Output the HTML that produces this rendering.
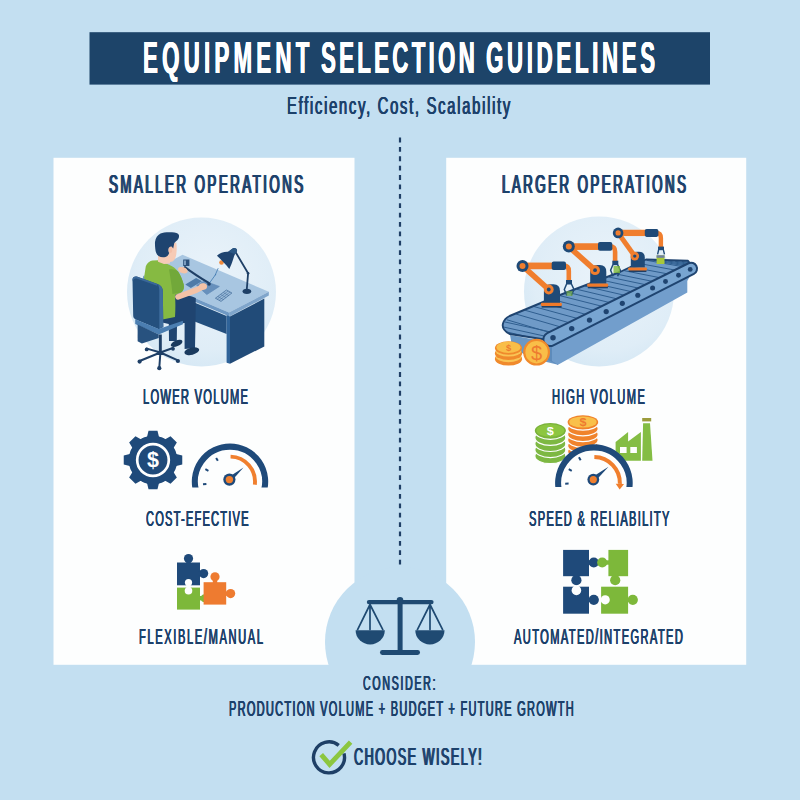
<!DOCTYPE html>
<html><head><meta charset="utf-8"><style>
html,body{margin:0;padding:0;}
body{width:800px;height:800px;position:relative;overflow:hidden;background:#C3DFF1;font-family:"Liberation Sans",sans-serif;}
.t{position:absolute;white-space:nowrap;line-height:1;transform-origin:0 0;}
svg{position:absolute;left:0;top:0;}
</style></head><body>
<svg width="0" height="0" style="position:absolute"><defs><filter id="thk" x="-5%" y="-20%" width="110%" height="140%"><feMorphology operator="dilate" radius="0.6 0"/></filter><filter id="thk2" x="-5%" y="-20%" width="110%" height="140%"><feMorphology operator="dilate" radius="0.5 0"/></filter><filter id="thk3" x="-5%" y="-20%" width="110%" height="140%"><feMorphology operator="dilate" radius="0.35 0.08"/></filter></defs></svg>
<svg width="800" height="800" viewBox="0 0 800 800">
<!-- banner -->
<rect x="89.5" y="32.2" width="620.5" height="52.4" fill="#1D4469"/>
<!-- panels -->
<rect x="53.5" y="157.8" width="301" height="507" fill="#FDFEFE"/>
<rect x="446.2" y="157.8" width="300" height="507" fill="#FDFEFE"/>
<!-- dashed line -->
<line x1="400" y1="137.6" x2="400" y2="565" stroke="#1F3F66" stroke-width="2.2" stroke-dasharray="4.8 4.58"/>
<!-- centre circle -->
<circle cx="400" cy="642" r="75" fill="#C3DFF1"/>
<!-- ===== desk scene ===== -->
<defs>
<radialGradient id="cg" cx="0.55" cy="0.4" r="0.65">
<stop offset="0" stop-color="#EAF3FA"/><stop offset="0.75" stop-color="#DFEDF7"/><stop offset="1" stop-color="#D4E7F4"/>
</radialGradient>
</defs>
<circle cx="201.5" cy="292" r="74.5" fill="url(#cg)"/>
<!-- modesty panel -->
<polygon points="155,286 226.6,316 226.6,334 155,306" fill="#234F7E"/>
<!-- desk top -->
<polygon points="143,276 182.5,254.8 268.8,291.8 228.9,312.6" fill="#A8C6E1"/>
<polygon points="228.9,312.6 268.8,291.8 268.8,295.6 229.5,316.4" fill="#7FA5CB"/>
<polygon points="143,276 228.9,312.6 229.5,316.4 143,279.8" fill="#6F99C4"/>
<!-- tablet / mat -->
<polygon points="185.3,284.4 196.1,278 202,281.2 190.8,288" fill="#4E7BA8"/>
<polygon points="196.5,285.2 204.3,281 219.4,286.4 206.8,294.6" fill="#6790BC" stroke="#5A85B3" stroke-width="0.6"/>
<!-- keyboard -->
<g>
<polygon points="215.4,298.2 226.4,290 231.9,293 221,301.4" fill="#9DBCDA" stroke="#3D6996" stroke-width="0.7"/>
<path d="M217.2 299.2 L228.2 291 M219.1 300.3 L230.1 292 M218 296.5 L223.5 299.7 M220.7 294.5 L226.2 297.7 M223.4 292.5 L228.9 295.7" stroke="#3D6996" stroke-width="0.5" fill="none"/>
</g>
<!-- gadget and cable -->
<rect x="183.2" y="259.5" width="6.2" height="6.5" fill="#2A4F7A"/>
<rect x="184.2" y="260.5" width="1.6" height="4.5" fill="#8FB0D0"/>
<path d="M184.2 266.6 C190 271 198 276.5 209.2 283.2" stroke="#1F3F66" stroke-width="2" fill="none"/>
<path d="M209.5 283 L216 274 M215 275.5 L218.2 268.2" stroke="#3F78B0" stroke-width="0.8" fill="none"/>
<circle cx="209" cy="284" r="1.8" fill="#1F3F66"/>
<!-- lamp -->
<ellipse cx="246.9" cy="291.3" rx="4.3" ry="2.6" fill="#1E3F66"/>
<path d="M246.7 290.5 L248.1 273.2 L235.5 252" stroke="#1E3F66" stroke-width="1.8" fill="none" stroke-linejoin="round"/>
<circle cx="248.1" cy="273.2" r="1.3" fill="#1E3F66"/>
<circle cx="221.5" cy="262.5" r="2.3" fill="#F08A3C"/>
<path d="M217 255.7 C219.5 253 224 251.6 228 251.8 L232.6 248.6 C234.6 247.3 237.2 248.6 237.1 250.9 L235 254.3 C233.6 256.5 232.8 262.5 229.3 268.9 C226 264.5 221 259.5 217 255.7 Z" fill="#1F4470"/>
<path d="M228.5 251.8 L232.6 248.6 C234.6 247.3 237.2 248.6 237.1 250.9 L235 254.3 Z" fill="#2B5784"/>
<!-- pedestal -->
<polygon points="226.6,314.9 230,316.4 230,363.8 226.6,362.7" fill="#2F6399"/>
<polygon points="230,316.4 264.3,298.6 264.3,346.4 230,363.8" fill="#214B78"/>
<!-- pants / legs -->
<path d="M160 296 L176 293.5 C185 294.5 191 296 195.8 298 L195.5 322 L195 348 L184.6 349 L184.6 323 L177 324 L176.8 341 L169 341 L168.8 324 L160 322 Z" fill="#1F4470"/>
<ellipse cx="191.8" cy="351.2" rx="7.6" ry="3.6" fill="#1A3A5E" transform="rotate(-14 191.8 351.2)"/>
<ellipse cx="176.6" cy="343.4" rx="6.2" ry="2.9" fill="#1A3A5E" transform="rotate(-22 176.6 343.4)"/>
<!-- shirt -->
<path d="M145.8 266.2 C147 263 150 261 152.5 260.6 L158.5 260.2 L164 262.5 L169 264.7 C172.5 266 176 268.5 178 271.5 C180.5 275 182 279 183.5 284 C184.3 287.5 184 290.5 181 292.5 L175 295 C175.5 302 175.5 309 175 317 L160 320 L144.2 300 L144.2 276.7 Z" fill="#86BA42"/>
<path d="M169 269.5 C172.5 268.6 176.5 269.5 178.2 271.7 C180.6 275 182.3 279.5 183.6 284 C184.3 287.5 184 290.5 181 292.5 L172.5 294 C172 288 170.5 278 169 269.5 Z" fill="#72A83A"/>
<!-- arms -->
<path d="M178 296.8 L196.5 290 L203.5 286.5" stroke="#F4C2A6" stroke-width="5.6" fill="none" stroke-linecap="round" stroke-linejoin="round"/>
<ellipse cx="203" cy="286.5" rx="4" ry="3.2" fill="#F4C2A6"/>
<ellipse cx="182.8" cy="270.2" rx="5" ry="3" fill="#F4C2A6" transform="rotate(18 182.8 270.2)"/>
<!-- neck / face -->
<path d="M158 255.5 L169.5 255.5 L170 263.5 L164 264 L158 261.8 Z" fill="#F6CBB6"/>
<path d="M170.5 243.5 L176.2 242.6 C176.9 246 176.9 250 176.3 254 C175.8 257.5 174.8 260 172.5 261.5 L168.8 262.2 L168 253 Z" fill="#F6CBB6"/>
<ellipse cx="170.2" cy="249.8" rx="2" ry="3.3" fill="#F3BFA8"/>
<!-- hair -->
<path d="M155 242 C155.5 238 157.5 235 160.5 233.5 C163 232.3 167 232 172 232.2 C175.5 232.2 178.2 233 178.9 235 C179.4 237.5 178.3 239.6 176 241.3 L174.3 243 L173.2 248.4 L171.8 246.7 C170.2 246.2 168.6 247.5 168.3 249.5 C168.1 251.5 168.9 252.6 169.2 253 C168.4 255 167.4 256.5 165.5 257 C163 257.6 160.5 257.3 158.5 256 C156.5 254.5 155.6 252 155.3 249 C155 246.5 154.9 244 155 242 Z" fill="#1E4470"/>
<!-- chair back -->
<path d="M132.5 279.5 C132.6 277.3 134.5 276 136.8 276.6 L157.5 284 C160.5 285.2 162.6 287.5 162.8 290.5 L163.3 327 L158.8 329.2 L135.7 319.4 C134.2 318.8 133.2 317.5 133.2 315.8 Z" fill="#24507E"/>
<path d="M157.5 284 C160.5 285.2 162.6 287.5 162.8 290.5 L163.3 327 L159.3 329 L159.3 291 C159.3 288 158.8 285.6 157.5 284 Z" fill="#3F6D9D"/>
<path d="M132.5 279.5 C132.6 277.3 134.5 276 136.8 276.6 L157.5 284 L157.2 285.8 L136.6 278.5 C134.8 278.1 133.3 279 132.8 281.5 Z" fill="#3A689A"/>
<!-- seat -->
<polygon points="135.2,319.2 158.75,329 182.9,320.8 182.9,324.2 158.75,334.6 135.2,324" fill="#4B7EB1"/>
<polygon points="137.6,324.4 158.75,334.6 158.75,338 141.9,343.6 137.6,341.2" fill="#28527F"/>
<rect x="158.9" y="334.5" width="2.9" height="19" fill="#1E3F66"/>
<g stroke="#1E3F66" stroke-width="2" stroke-linecap="round">
<path d="M160.4 352.5 L139.6 361 M160.4 352.5 L177.9 360.4 M160.4 352.5 L159.3 367.7 M160.4 352.5 L146.9 348.6 M160.4 352.5 L172.8 348"/>
</g>
<g fill="#1E3F66">
<circle cx="139.6" cy="361.6" r="2.1"/><circle cx="177.9" cy="361" r="2.1"/><circle cx="159.3" cy="368.2" r="2.1"/><circle cx="146.7" cy="349.4" r="1.9"/><circle cx="173" cy="348.8" r="1.9"/>
</g>
<!-- ===== conveyor scene ===== -->
<circle cx="599" cy="291.5" r="75" fill="url(#cg)"/>
<polygon points="510,335 548,342 558,347 558,364.8 529,357.8 512,346" fill="#6A98C6"/>
<polygon points="548,342 558,347 558,364.8 548,360" fill="#5D8BBB"/>
<polygon points="552,344 690,276 687.3,281 687.3,292.6 558,364.8 552,361" fill="#729ECC"/>
<defs><clipPath id="beltclip"><path d="M509.6 316 L560 295 L620 272 L646 259.5 L688 260.8 L692 266 L548 340 L509.6 334 C504 331 502 327 503 323.5 C504 320 506.5 317.5 509.6 316 Z"/></clipPath></defs>
<path d="M509.6 316 L560 295 L620 272 L646 259.5 L688 260.8 L692 266 L548 340 L509.6 334 C504 331 502 327 503 323.5 C504 320 506.5 317.5 509.6 316 Z" fill="#6F9AC7"/>
<g clip-path="url(#beltclip)"><path d="M507.0 319.8 L577.0 340.6 M516.2 314.1 L586.2 334.4 M525.2 310.3 L595.2 330.1 M534.1 306.6 L604.1 325.8 M542.9 302.9 L612.9 321.6 M551.6 299.3 L621.6 317.5 M560.1 295.7 L630.1 313.4 M568.6 292.5 L638.6 309.7 M576.9 289.3 L646.9 306.0 M585.1 286.2 L655.1 302.3 M593.1 283.1 L663.1 298.8 M601.1 280.0 L671.1 295.2 M608.9 277.0 L678.9 291.7 M616.7 274.1 L686.7 288.3 M624.3 270.7 L694.3 284.5 M631.8 267.1 L701.8 280.4 M639.3 263.5 L709.3 276.4 M646.6 260.3 L716.6 272.7 M653.8 260.5 L723.8 272.5 M660.9 260.8 L730.9 272.3 M667.9 261.0 L737.9 272.1 M674.8 261.2 L744.8 271.9 M681.6 261.4 L751.6 271.7 M505.0 322 L560 334.0 M503.5 327 L560 339.5 M505.0 331.5 L560 344.5" stroke="#2F5E8F" stroke-width="1" fill="none"/></g>
<path d="M509.6 316 L560 295 L620 272 L646 259.5 L688 260.8 L692 266 L548 340 L509.6 334 C504 331 502 327 503 323.5 C504 320 506.5 317.5 509.6 316 Z" fill="none" stroke="#1F4470" stroke-width="1.9" stroke-linejoin="round"/>
<path d="M547.21 333.03 L688.51 263.24 A6.0 6.0 0 0 1 693.89 273.96 L553.39 345.37 A6.9 6.9 0 0 1 547.21 333.03 Z" fill="#78A5D1" stroke="#1F4470" stroke-width="2"/>
<circle cx="553" cy="337.8" r="2.75" fill="#1F4470"/>
<circle cx="571.7" cy="328.6" r="2.71" fill="#1F4470"/>
<circle cx="589.5" cy="320.1" r="2.67" fill="#1F4470"/>
<circle cx="606.2" cy="311.6" r="2.63" fill="#1F4470"/>
<circle cx="622.3" cy="303.3" r="2.59" fill="#1F4470"/>
<circle cx="637.8" cy="295.3" r="2.56" fill="#1F4470"/>
<circle cx="652.6" cy="288.1" r="2.52" fill="#1F4470"/>
<circle cx="665.5" cy="281.6" r="2.48" fill="#1F4470"/>
<circle cx="678.5" cy="275.2" r="2.44" fill="#1F4470"/>
<circle cx="690.2" cy="269.4" r="2.40" fill="#1F4470"/>
<g id="robot1">
<path d="M543.9 303 V291 Q543.9 284.2 550.5 284.2 H553.5 Q560 284.2 560 291 V303 Z" fill="#1F4A77"/>
<rect x="541.6" y="305.4" width="20" height="2.2" fill="#1F3F66"/>
<rect x="540.9" y="302.8" width="21" height="3.2" rx="1.2" fill="#F07A2A"/>
<path d="M548.75 289.5 L522.5 265.9" stroke="#F07E2E" stroke-width="5.6"/>
<path d="M522.5 265.9 L553 265.9" stroke="#F07E2E" stroke-width="6.7"/>
<path d="M563.5 265.6 Q568.8 265.6 568.8 271 V281" stroke="#F07E2E" stroke-width="4.6" fill="none"/>
<rect x="551.7" y="261.4" width="14.3" height="8.7" rx="2" fill="#1F4A77"/>
<rect x="566" y="280" width="6" height="4.5" fill="#1F4A77"/>
<path d="M566.6 284 L564.3 289.5 L566.8 295.5 M571.4 284 L574 289.5 L571.3 295.5" stroke="#1F4A77" stroke-width="1.5" fill="none"/>
<circle cx="548.75" cy="289.5" r="4.9" fill="#F07E2E"/>
<circle cx="548.75" cy="289.5" r="1.9" fill="#1F4A77"/>
<circle cx="522.5" cy="265.9" r="6" fill="#1F4A77"/>
<circle cx="522.5" cy="265.9" r="3" fill="#F07E2E"/>
</g>
<g transform="translate(46.3 -19.3)">
<path d="M543.9 303 V291 Q543.9 284.2 550.5 284.2 H553.5 Q560 284.2 560 291 V303 Z" fill="#1F4A77"/>
<rect x="541.6" y="305.4" width="20" height="2.2" fill="#1F3F66"/>
<rect x="540.9" y="302.8" width="21" height="3.2" rx="1.2" fill="#F07A2A"/>
<path d="M548.75 289.5 L522.5 265.9" stroke="#F07E2E" stroke-width="5.6"/>
<path d="M522.5 265.9 L553 265.9" stroke="#F07E2E" stroke-width="6.7"/>
<path d="M563.5 265.6 Q568.8 265.6 568.8 271 V281" stroke="#F07E2E" stroke-width="4.6" fill="none"/>
<rect x="551.7" y="261.4" width="14.3" height="8.7" rx="2" fill="#1F4A77"/>
<rect x="566" y="280" width="6" height="4.5" fill="#1F4A77"/>
<path d="M566.6 284 L564.3 289.5 L566.8 295.5 M571.4 284 L574 289.5 L571.3 295.5" stroke="#1F4A77" stroke-width="1.5" fill="none"/>
<circle cx="548.75" cy="289.5" r="4.9" fill="#F07E2E"/>
<circle cx="548.75" cy="289.5" r="1.9" fill="#1F4A77"/>
<circle cx="522.5" cy="265.9" r="6" fill="#1F4A77"/>
<circle cx="522.5" cy="265.9" r="3" fill="#F07E2E"/>
</g>
<g>
<path d="M630.8 267.5 V257.5 Q630.8 251.7 636.8 251.7 H638.8 Q644.8 251.7 644.8 257.5 V267.5 Z" fill="#1F4A77"/>
<rect x="628.8" y="269.8" width="17.6" height="2.2" fill="#1F3F66"/>
<rect x="628.2" y="267.4" width="18.8" height="3.1" rx="1.1" fill="#F07A2A"/>
<path d="M634.75 256.1 L618.1 232.9" stroke="#F07E2E" stroke-width="5"/>
<path d="M618.1 232.9 L646 232.9" stroke="#F07E2E" stroke-width="6.3"/>
<path d="M656.5 233 Q660.8 233 660.9 238 V247.5" stroke="#F07E2E" stroke-width="4.4" fill="none"/>
<rect x="644.8" y="229" width="13.6" height="7.9" rx="1.8" fill="#1F4A77"/>
<rect x="658" y="246.6" width="6" height="3.6" fill="#1F4A77"/>
<path d="M658.6 250 L657.6 254.3 M663.4 250 L664.5 254.3" stroke="#1F4A77" stroke-width="1.4" fill="none"/>
<circle cx="634.75" cy="256.1" r="4.3" fill="#F07E2E"/>
<circle cx="634.75" cy="256.1" r="1.7" fill="#1F4A77"/>
<circle cx="618.1" cy="232.9" r="5.3" fill="#1F4A77"/>
<circle cx="618.1" cy="232.9" r="2.6" fill="#F07E2E"/>
</g>

<rect x="613.5" y="266" width="6.5" height="7" fill="#7DB83A" opacity="0.8"/>
<rect x="656.6" y="255.3" width="7.9" height="8.7" fill="#A8C83A"/>
<rect x="656.6" y="255.3" width="7.9" height="2.5" fill="#6E7FA0"/>
<rect x="566.5" y="291" width="6" height="5" fill="#7DB83A" opacity="0.6"/>
<!-- coins -->
<g>
<ellipse cx="508.5" cy="359" rx="13.6" ry="6.6" fill="#F08A2C"/>
<ellipse cx="508.5" cy="356.6" rx="12.8" ry="5.6" fill="#F9C455"/>
<ellipse cx="508.5" cy="353.4" rx="13.6" ry="6.6" fill="#F08A2C"/>
<ellipse cx="508.5" cy="351" rx="12.8" ry="5.6" fill="#F9C455"/>
<ellipse cx="508.5" cy="348" rx="13.6" ry="6.8" fill="#F08A2C"/>
<ellipse cx="508.5" cy="347.2" rx="12" ry="5.7" fill="#F9BE48"/>
<text x="0" y="0" font-family="Liberation Sans" font-size="11" font-weight="bold" fill="#EE7B30" text-anchor="middle" transform="translate(508.5 351) scale(0.85 0.8)">$</text>
<circle cx="536.6" cy="352.2" r="13.4" fill="#F08A2C"/>
<circle cx="536.6" cy="352.2" r="11.2" fill="#F9BE48"/>
<text x="536.6" y="359.5" font-family="Liberation Sans" font-size="20" fill="#EE7B30" text-anchor="middle">$</text>
</g>
<!-- ===== scale icon ===== -->
<g fill="#1F4A72" stroke="none">
<rect x="366.8" y="599.9" width="66.8" height="4.4" rx="2.2"/>
<circle cx="400" cy="600.2" r="3.3"/>
<rect x="397.6" y="600" width="5" height="52"/>
<rect x="380" y="650" width="40" height="4.9" rx="2.4"/>
<path d="M355.6 630.3 H384.8 A14.6 14.2 0 0 1 355.6 630.3 Z"/>
<path d="M415.3 630.3 H444.5 A14.6 14.2 0 0 1 415.3 630.3 Z"/>
</g>
<g stroke="#1F4A72" stroke-width="1.7" fill="none" stroke-linecap="round">
<path d="M370 604.5 L357.6 629.6 M370 604.5 V629.6 M370 604.5 L382.8 629.6"/>
<path d="M430 604.5 L417.4 629.6 M430 604.5 V629.6 M430 604.5 L442.6 629.6"/>
</g>
<!-- ===== check icon ===== -->
<path d="M343.97 753.39 A15.5 15.5 0 1 1 338.75 745.35" fill="none" stroke="#1E3F66" stroke-width="3.4"/>
<path d="M321.2 754.6 L329.6 764.4 L350.6 742.2" fill="none" stroke="#8CC63F" stroke-width="4.8" stroke-linejoin="miter"/>
<!-- ===== gear ===== -->
<g fill="#1F4A7A">
<circle cx="153" cy="460" r="24.3"/>
<path d="M147.06 436.75 L148.52 430.74 L157.48 430.74 L158.94 436.75 L165.24 439.36 L170.52 436.14 L176.86 442.48 L173.64 447.76 L176.25 454.06 L182.26 455.52 L182.26 464.48 L176.25 465.94 L173.64 472.24 L176.86 477.52 L170.52 483.86 L165.24 480.64 L158.94 483.25 L157.48 489.26 L148.52 489.26 L147.06 483.25 L140.76 480.64 L135.48 483.86 L129.14 477.52 L132.36 472.24 L129.75 465.94 L123.74 464.48 L123.74 455.52 L129.75 454.06 L132.36 447.76 L129.14 442.48 L135.48 436.14 L140.76 439.36 Z"/>
</g>
<circle cx="153" cy="460" r="15.8" fill="none" stroke="#FFFFFF" stroke-width="2.7"/>
<text x="153" y="467.2" font-family="Liberation Sans" font-weight="bold" font-size="21.5" fill="#FFFFFF" text-anchor="middle">$</text>
<!-- ===== left speedometer ===== -->
<defs><clipPath id="gl"><rect x="184.9" y="436.54999999999995" width="90.2" height="50.950000000000045"/></clipPath></defs>
<path d="M197.02 493.65 A35.1 35.1 0 1 1 262.98 493.65" fill="none" stroke="#1F4A7A" stroke-width="6.2" clip-path="url(#gl)"/>
<path d="M230.57 456.66 A25 25 0 0 1 254.82 484.65" fill="none" stroke="#F07F2E" stroke-width="3.9"/>
<path d="M206.39 483.94 L203.01 484.26 M208.42 470.77 L205.38 469.23 M217.86 460.87 L216.14 457.93" stroke="#1F4A7A" stroke-width="2" fill="none"/>
<path d="M231.09 481.57 L243.50 467.50 L227.71 477.63 Z" fill="#1F4A7A"/>
<circle cx="229.4" cy="479.6" r="6.1" fill="#1F4A7A"/><circle cx="229.4" cy="479.6" r="3.7" fill="#F07F2E"/>
<!-- ===== left puzzle ===== -->
<g fill="#1F4A7A">
<rect x="177" y="562.5" width="23" height="22.8"/>
<circle cx="188.5" cy="558.6" r="4.6"/><rect x="186.3" y="559" width="4.4" height="5"/>
<circle cx="203.6" cy="573.6" r="4.6"/><rect x="198" y="571.4" width="5" height="4.4"/>
</g>
<g fill="#7DB83A">
<rect x="177" y="587.6" width="23" height="22"/>
<circle cx="204.8" cy="598.2" r="4"/><rect x="199" y="596" width="5" height="4.4"/>
</g>
<g fill="#FDFEFE">
<circle cx="188.5" cy="590.8" r="3.8"/><rect x="186.5" y="583.5" width="4" height="6"/>
<circle cx="188.5" cy="582.6" r="3.6"/>
</g>
<g fill="#EE7B30">
<rect x="203.6" y="582.2" width="22.6" height="22.4"/>
<circle cx="215" cy="576.8" r="4.6"/><rect x="212.8" y="578" width="4.4" height="5"/>
<circle cx="230.6" cy="593.6" r="4.6"/><rect x="225" y="591.4" width="5" height="4.4"/>
</g>
<!-- ===== right puzzle ===== -->
<g fill="#1F4A7A">
<rect x="563.1" y="549.9" width="25.9" height="26.3"/>
<circle cx="593.8" cy="562.5" r="5.1"/><rect x="588" y="560.3" width="4" height="4.4"/>
<circle cx="576.4" cy="580.2" r="5.1"/><rect x="574.2" y="575" width="4.4" height="4"/>
<rect x="563.1" y="586.7" width="25.9" height="27"/>
<circle cx="593.8" cy="599.8" r="5.1"/><rect x="588" y="597.6" width="4" height="4.4"/>
</g>
<g fill="#7DB83A">
<rect x="608.4" y="549.9" width="19.7" height="26.3"/>
<circle cx="602.2" cy="562.5" r="5.1"/><rect x="605" y="560.3" width="4" height="4.4"/>
<circle cx="615.2" cy="580.2" r="5.1"/><rect x="613" y="575" width="4.4" height="4"/>
<rect x="601.1" y="586.7" width="27" height="27"/>
<circle cx="632.8" cy="599.8" r="5.1"/><rect x="627" y="597.6" width="4" height="4.4"/>
</g>
<g fill="#FDFEFE">
<circle cx="576.4" cy="590.4" r="4.8"/>
<circle cx="605.2" cy="599.8" r="4.6"/>
</g>

<!-- ===== right middle ===== -->
<ellipse cx="550.35" cy="455.90" rx="15.5" ry="7.800000000000001" fill="#7DB843" stroke="#FDFEFE" stroke-width="1.2"/>
<ellipse cx="550.35" cy="449.80" rx="15.5" ry="7.800000000000001" fill="#7DB843" stroke="#FDFEFE" stroke-width="1.2"/>
<ellipse cx="550.35" cy="443.70" rx="15.5" ry="7.800000000000001" fill="#7DB843" stroke="#FDFEFE" stroke-width="1.2"/>
<ellipse cx="550.35" cy="437.60" rx="15.5" ry="7.800000000000001" fill="#7DB843" stroke="#FDFEFE" stroke-width="1.2"/>
<ellipse cx="550.35" cy="431.50" rx="15.5" ry="7.800000000000001" fill="#7DB843" stroke="#FDFEFE" stroke-width="1.2"/>
<ellipse cx="550.35" cy="430.5" rx="15.5" ry="7.4" fill="#7AB23A"/>
<ellipse cx="550.35" cy="430.5" rx="13.9" ry="6.2" fill="#8DC640"/>
<text x="0" y="0" font-family="Liberation Sans" font-weight="bold" font-size="14" fill="#FFFFFF" text-anchor="middle" transform="translate(550.35 434.9) scale(0.9 0.75)">$</text>
<ellipse cx="582.9" cy="457.20" rx="15.3" ry="7.2" fill="#F0832C" stroke="#FDFEFE" stroke-width="1.2"/>
<ellipse cx="582.9" cy="451.50" rx="15.3" ry="7.2" fill="#F0832C" stroke="#FDFEFE" stroke-width="1.2"/>
<ellipse cx="582.9" cy="445.80" rx="15.3" ry="7.2" fill="#F0832C" stroke="#FDFEFE" stroke-width="1.2"/>
<ellipse cx="582.9" cy="440.10" rx="15.3" ry="7.2" fill="#F0832C" stroke="#FDFEFE" stroke-width="1.2"/>
<ellipse cx="582.9" cy="434.40" rx="15.3" ry="7.2" fill="#F0832C" stroke="#FDFEFE" stroke-width="1.2"/>
<ellipse cx="582.9" cy="428.70" rx="15.3" ry="7.2" fill="#F0832C" stroke="#FDFEFE" stroke-width="1.2"/>
<ellipse cx="582.9" cy="423.00" rx="15.3" ry="7.2" fill="#F0832C" stroke="#FDFEFE" stroke-width="1.2"/>
<ellipse cx="582.9" cy="422" rx="15.3" ry="6.8" fill="#F0832C"/>
<ellipse cx="582.9" cy="422" rx="13.700000000000001" ry="5.6" fill="#F9C04A"/>
<text x="0" y="0" font-family="Liberation Sans" font-weight="bold" font-size="14" fill="#EE7B30" text-anchor="middle" transform="translate(582.9 426.2) scale(0.9 0.75)">$</text>
<g fill="#84BD44">
<polygon points="615.6,460.75 615.6,442 628.1,432 628.1,441.4 640.9,432 640.9,460.75"/>
<polygon points="643.1,423.25 650,423.25 652.5,460.75 642.2,460.75"/>
</g>
<rect x="642.2" y="418" width="9" height="3.4" fill="#9C9C3C"/>
<rect x="620" y="447" width="6.6" height="6" fill="#FDFEFE"/>
<rect x="630.3" y="447" width="6.6" height="6" fill="#FDFEFE"/>

<defs><clipPath id="gr"><rect x="548.1999999999999" y="437.3" width="91.4" height="49.69999999999999"/></clipPath></defs>
<path d="M558.1999999999999 483 A35.7 35.7 0 0 1 629.6 483 L629.6 487 L558.1999999999999 487 Z" fill="#FDFEFE"/>
<path d="M560.35 495.21 A35.7 35.7 0 1 1 627.45 495.21" fill="none" stroke="#1F4A7A" stroke-width="6.2" clip-path="url(#gr)"/>
<path d="M594.35 457.00 A26 26 0 0 1 619.88 483.91" fill="none" stroke="#F07F2E" stroke-width="4"/>
<path d="M624.08 484.05 L619.69 489.40 L615.69 483.76 Z" fill="#F07F2E"/>
<path d="M568.60 483.56 L565.20 483.64 M571.74 470.82 L568.76 469.18 M580.66 460.27 L578.94 457.33" stroke="#1F4A7A" stroke-width="2" fill="none"/>
<path d="M594.98 481.58 L608.50 466.70 L591.62 477.62 Z" fill="#1F4A7A"/>
<circle cx="593.3" cy="479.6" r="5.9" fill="#1F4A7A"/><circle cx="593.3" cy="479.6" r="3.6" fill="#F07F2E"/>
</svg>
<div class="t" style="left:143.24px;top:35.81px;font-size:44.64px;font-weight:bold;color:#ffffff;letter-spacing:8.422px;transform:scaleX(0.5);text-shadow:-0.6px 0 0 #ffffff,0.6px 0 0 #ffffff;">EQUIPMENT</div>
<div class="t" style="left:321.33px;top:35.81px;font-size:44.64px;font-weight:bold;color:#ffffff;letter-spacing:6.517px;transform:scaleX(0.5);text-shadow:-0.6px 0 0 #ffffff,0.6px 0 0 #ffffff;">SELECTION</div>
<div class="t" style="left:486.11px;top:35.81px;font-size:44.64px;font-weight:bold;color:#ffffff;letter-spacing:7.293px;transform:scaleX(0.5);text-shadow:-0.6px 0 0 #ffffff,0.6px 0 0 #ffffff;">GUIDELINES</div>
<div class="t" style="left:287.21px;top:94.16px;font-size:23.91px;font-weight:normal;color:#1C416B;letter-spacing:2.736px;transform:scaleX(0.62);text-shadow:-0.6px 0 0 #1C416B,0.6px 0 0 #1C416B;">Efficiency, Cost, Scalability</div>
<div class="t" style="left:109.03px;top:170.53px;font-size:26.67px;font-weight:normal;color:#1C416B;letter-spacing:4.922px;transform:scaleX(0.5);text-shadow:-1.3px 0 0 #1C416B,1.3px 0 0 #1C416B;">SMALLER OPERATIONS</div>
<div class="t" style="left:502.03px;top:170.53px;font-size:26.67px;font-weight:normal;color:#1C416B;letter-spacing:4.883px;transform:scaleX(0.5);text-shadow:-1.3px 0 0 #1C416B,1.3px 0 0 #1C416B;">LARGER OPERATIONS</div>
<div class="t" style="left:143.11px;top:387.44px;font-size:21.45px;font-weight:normal;color:#1C416B;letter-spacing:2.434px;transform:scaleX(0.52);text-shadow:-0.6px 0 0 #1C416B,0.6px 0 0 #1C416B;">LOWER VOLUME</div>
<div class="t" style="left:552.11px;top:387.4px;font-size:21.38px;font-weight:normal;color:#1C416B;letter-spacing:2.908px;transform:scaleX(0.52);text-shadow:-0.6px 0 0 #1C416B,0.6px 0 0 #1C416B;">HIGH VOLUME</div>
<div class="t" style="left:146.44px;top:508.65px;font-size:21.38px;font-weight:normal;color:#1C416B;letter-spacing:2.282px;transform:scaleX(0.52);text-shadow:-0.6px 0 0 #1C416B,0.6px 0 0 #1C416B;">COST-EFECTIVE</div>
<div class="t" style="left:528.94px;top:508.65px;font-size:21.38px;font-weight:normal;color:#1C416B;letter-spacing:2.458px;transform:scaleX(0.52);text-shadow:-0.6px 0 0 #1C416B,0.6px 0 0 #1C416B;">SPEED &amp; RELIABILITY</div>
<div class="t" style="left:139.11px;top:626.65px;font-size:21.38px;font-weight:normal;color:#1C416B;letter-spacing:3.119px;transform:scaleX(0.52);text-shadow:-0.6px 0 0 #1C416B,0.6px 0 0 #1C416B;">FLEXIBLE/MANUAL</div>
<div class="t" style="left:514.3px;top:626.65px;font-size:21.38px;font-weight:normal;color:#1C416B;letter-spacing:2.655px;transform:scaleX(0.52);text-shadow:-0.6px 0 0 #1C416B,0.6px 0 0 #1C416B;">AUTOMATED/INTEGRATED</div>
<div class="t" style="left:363.47px;top:673.2px;font-size:20.43px;font-weight:normal;color:#1C416B;letter-spacing:3.248px;transform:scaleX(0.52);text-shadow:-0.65px 0 0 #1C416B,0.65px 0 0 #1C416B;">CONSIDER:</div>
<div class="t" style="left:229.22px;top:697.78px;font-size:21.23px;font-weight:normal;color:#1C416B;letter-spacing:2.434px;transform:scaleX(0.52);text-shadow:-0.65px 0 0 #1C416B,0.65px 0 0 #1C416B;">PRODUCTION VOLUME + BUDGET + FUTURE GROWTH</div>
<div class="t" style="left:354.07px;top:744.79px;font-size:24.35px;font-weight:normal;color:#1C416B;letter-spacing:2.798px;transform:scaleX(0.52);text-shadow:-1.1px 0 0 #1C416B,1.1px 0 0 #1C416B;">CHOOSE WISELY!</div></body></html>
